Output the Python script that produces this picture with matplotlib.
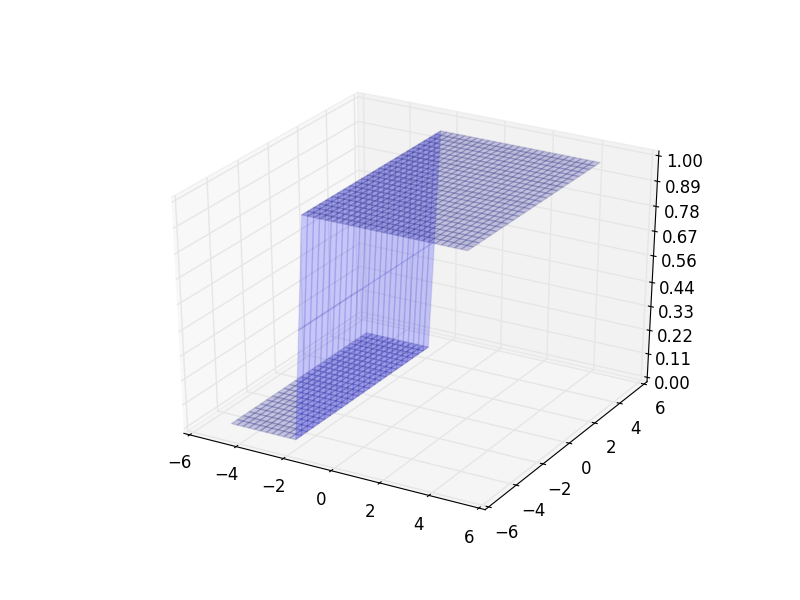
import numpy as np
import matplotlib
matplotlib.use("Agg")
import matplotlib.pyplot as plt
from mpl_toolkits.mplot3d import Axes3D

# surface sample positions
x_values = [-5.0, -4.75, -4.5, -4.25, -4.0, -3.75, -3.5, -3.25, -3.0, -2.75,
            -2.5, -2.25, -2.0, -1.75, -1.5, -1.25, -1.0, -0.75, -0.5, -0.25,
            0.0, 0.25, 0.5, 0.75, 1.0, 1.25, 1.5, 1.75, 2.0, 2.25,
            2.5, 2.75, 3.0, 3.25, 3.5, 3.75, 4.0, 4.25, 4.5, 4.75]
y_values = [-5.0, -4.6, -4.2, -3.8, -3.4, -3.0, -2.6, -2.2, -1.8, -1.4, -1.0, -0.6, -0.2,
            0.2, 0.6, 1.0, 1.4, 1.8, 2.2, 2.6, 3.0, 3.4, 3.8, 4.2, 4.6]
# height of the step at each x sample
z_profile = [0, 0, 0, 0, 0, 0, 0, 0, 0, 0,
             0, 0, 0.5, 1, 1, 1, 1, 1, 1, 1,
             1, 1, 1, 1, 1, 1, 1, 1, 1, 1,
             1, 1, 1, 1, 1, 1, 1, 1, 1, 1]

x_ticks = [-6, -4, -2, 0, 2, 4, 6]
y_ticks = [-6, -4, -2, 0, 2, 4, 6]
z_ticks = [0.0, 0.11, 0.22, 0.33, 0.44, 0.56, 0.67, 0.78, 0.89, 1.0]

X, Y = np.meshgrid(x_values, y_values)
Z = np.tile(z_profile, (len(y_values), 1))

# wall strips are plain blue, the flat parts come out darker
colors = np.empty(X.shape + (4,))
colors[:] = (0, 0, 0.55, 0.2)
colors[:, 11:13] = (0, 0, 1, 0.2)
edges = np.empty(X.shape + (4,))
edges[:] = (0, 0, 0.4, 0.14)
edges[:, 11:13] = (0, 0, 0.7, 0.09)

fig = plt.figure(figsize=(8, 6), dpi=100)
ax = fig.add_axes([0.126, 0.1, 0.775, 0.8], projection="3d")
ax.apply_aspect = lambda position=None: None  # fill the axes box like the old mplot3d
surf = ax.plot_surface(X, Y, Z, rstride=1, cstride=1, facecolors=colors,
                       shade=False, linewidth=1.0)
surf.set_edgecolors(edges[:-1, :-1].reshape(-1, 4))

ax.set_xlim(-6, 6, view_margin=1/48)
ax.set_ylim(-6, 6, view_margin=1/48)
ax.set_zlim(0, 1, view_margin=1/48)
ax.set_xticks(x_ticks)
ax.set_yticks(y_ticks)
ax.set_zticks(z_ticks)
ax.set_zticklabels(["%.2f" % z for z in z_ticks])
ax.tick_params(labelsize=12)
ax.view_init(elev=30, azim=-60)
ax.set_box_aspect((1, 1, 1), zoom=0.943)

for axis in (ax.xaxis, ax.yaxis, ax.zaxis):
    axis._axinfo["grid"].update(color=(0.9, 0.9, 0.9, 1), linewidth=1.0)
    axis._axinfo["tick"].update(inward_factor=0.1, outward_factor=0.1)
    axis.pane.set_edgecolor((0.9, 0.9, 0.9, 1))

fig.savefig("out.png", dpi=100)
